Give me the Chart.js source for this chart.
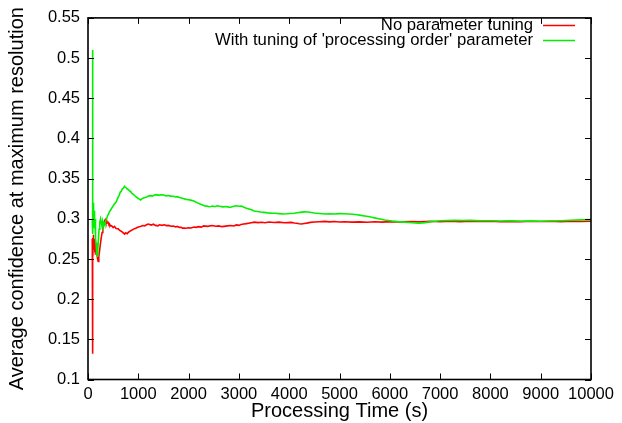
<!DOCTYPE html>
<html>
<head>
<meta charset="utf-8">
<script src="https://cdn.jsdelivr.net/npm/chart.js@4.4.1/dist/chart.umd.min.js"></script>
<style>
  html, body { margin: 0; padding: 0; background: #ffffff; }
  #wrap { width: 622px; height: 423px; }
</style>
</head>
<body>
<div id="wrap"><canvas id="c" width="622" height="423"></canvas></div>
<script>
// Series labels
const seriesNames = ["No parameter tuning", "With tuning of 'processing order' parameter"];

// Processing time (s) and average confidence, run without parameter tuning
const redTimes = [85, 88, 91, 94, 97, 100, 105, 112, 120, 130, 145, 160, 175, 190, 203, 215, 230, 245, 260, 280,
  295, 310, 325, 342, 355, 370, 385, 400, 415, 428, 450, 470, 500, 527, 560, 600, 630, 660, 690, 726,
  750, 780, 800, 826, 860, 890, 925, 960, 1000, 1040, 1091, 1130, 1160, 1200, 1257, 1300, 1340, 1389, 1420, 1470,
  1522, 1560, 1600, 1650, 1700, 1740, 1775, 1820, 1850, 1880, 1907, 1950, 2000, 2050, 2106, 2150, 2200, 2250, 2300, 2380,
  2470, 2540, 2600, 2660, 2707, 2770, 2836, 2900, 2950, 3000, 3040, 3100, 3150, 3220, 3307, 3380, 3450, 3520, 3600, 3700,
  3800, 3900, 4040, 4100, 4150, 4200, 4240, 4300, 4350, 4420, 4500, 4600, 4707, 4800, 4900, 5000, 5100, 5250, 5400, 5550,
  5700, 5850, 6000, 6200, 6400, 6600, 6800, 7000, 7200, 7400, 7600, 7800, 8000, 8200, 8400, 8600, 8800, 9000, 9200, 9400,
  9600, 9800, 10000];
const redValues = [0.275, 0.132, 0.27, 0.19, 0.276, 0.262, 0.28, 0.268, 0.275, 0.262, 0.266, 0.256, 0.258, 0.25, 0.247, 0.253, 0.26, 0.268, 0.275, 0.283,
  0.288, 0.294, 0.297, 0.299, 0.296, 0.298, 0.295, 0.2955, 0.293, 0.2935, 0.291, 0.2915, 0.289, 0.2905, 0.288, 0.2875, 0.2855, 0.2845, 0.283, 0.281,
  0.2825, 0.2815, 0.283, 0.2842, 0.2855, 0.2865, 0.2877, 0.2885, 0.2898, 0.2905, 0.2917, 0.2912, 0.2925, 0.2935, 0.2922, 0.2932, 0.2918, 0.2912, 0.2925, 0.2918,
  0.2926, 0.2915, 0.2918, 0.2908, 0.291, 0.2898, 0.2905, 0.2893, 0.2895, 0.2884, 0.2886, 0.2882, 0.2889, 0.2886, 0.2898, 0.2893, 0.2902, 0.2896, 0.2911, 0.2906,
  0.2916, 0.2908, 0.2912, 0.2902, 0.2906, 0.2912, 0.2916, 0.291, 0.2924, 0.2918, 0.2928, 0.2935, 0.294, 0.2948, 0.2958, 0.2952, 0.2957, 0.295, 0.296, 0.2953,
  0.2958, 0.295, 0.2955, 0.2948, 0.2944, 0.2938, 0.2935, 0.2942, 0.2946, 0.2955, 0.296, 0.2964, 0.2968, 0.2962, 0.2966, 0.296, 0.2963, 0.2958, 0.2962, 0.2957,
  0.2963, 0.2958, 0.2965, 0.2961, 0.2966, 0.2962, 0.297, 0.2964, 0.2969, 0.2965, 0.2971, 0.2966, 0.2969, 0.2964, 0.2968, 0.2965, 0.297, 0.2966, 0.2969, 0.2965,
  0.297, 0.2967, 0.297];

// Processing time (s) and average confidence, run with 'processing order' tuning
const greenTimes = [85, 88, 90, 92, 94, 96, 98, 102, 106, 110, 116, 122, 130, 140, 150, 160, 172, 183, 195, 208,
  220, 235, 249, 262, 275, 290, 305, 320, 335, 350, 370, 390, 410, 428, 450, 480, 500, 520, 540, 561,
  580, 600, 620, 640, 660, 680, 700, 726, 745, 760, 780, 800, 820, 846, 870, 900, 925, 950, 975, 1000,
  1020, 1045, 1070, 1100, 1140, 1178, 1210, 1244, 1280, 1320, 1370, 1410, 1450, 1509, 1550, 1600, 1650, 1700, 1740, 1775,
  1820, 1860, 1907, 1950, 2000, 2040, 2106, 2150, 2200, 2239, 2280, 2320, 2360, 2404, 2440, 2480, 2520, 2571, 2620, 2680,
  2750, 2800, 2836, 2900, 2950, 3000, 3050, 3100, 3150, 3200, 3250, 3300, 3373, 3430, 3500, 3570, 3640, 3720, 3800, 3880,
  3950, 4020, 4100, 4160, 4220, 4290, 4373, 4440, 4500, 4600, 4707, 4800, 4900, 5000, 5100, 5173, 5260, 5350, 5430, 5500,
  5570, 5640, 5720, 5800, 5900, 6040, 6150, 6300, 6450, 6573, 6700, 6800, 6900, 7000, 7150, 7300, 7450, 7600, 7800, 8000,
  8200, 8400, 8600, 8800, 9000, 9200, 9400, 9600, 9800, 10000];
const greenValues = [0.30, 0.51, 0.44, 0.50, 0.38, 0.47, 0.281, 0.32, 0.29, 0.318, 0.292, 0.31, 0.288, 0.30, 0.275, 0.27, 0.258, 0.2535, 0.262, 0.275,
  0.287, 0.296, 0.300, 0.296, 0.292, 0.297, 0.291, 0.294, 0.292, 0.297, 0.300, 0.304, 0.306, 0.309, 0.311, 0.314, 0.316, 0.318, 0.3195, 0.321,
  0.324, 0.327, 0.329, 0.333, 0.334, 0.337, 0.338, 0.3405, 0.339, 0.3385, 0.337, 0.3365, 0.335, 0.334, 0.332, 0.3305, 0.329, 0.3275, 0.3265, 0.3252,
  0.3245, 0.3235, 0.3248, 0.3258, 0.3265, 0.3275, 0.3285, 0.3288, 0.3282, 0.3295, 0.330, 0.3292, 0.3298, 0.3296, 0.3285, 0.329, 0.3282, 0.328, 0.3272, 0.3275,
  0.3265, 0.3258, 0.325, 0.3242, 0.3238, 0.3232, 0.3222, 0.3205, 0.3192, 0.318, 0.3172, 0.316, 0.3158, 0.315, 0.3152, 0.3158, 0.315, 0.3162, 0.3155, 0.3148,
  0.3152, 0.3145, 0.3143, 0.3155, 0.3162, 0.3156, 0.3158, 0.3145, 0.3132, 0.3122, 0.3112, 0.3098, 0.309, 0.3085, 0.308, 0.3074, 0.307, 0.3068, 0.3064, 0.306,
  0.3062, 0.3066, 0.3068, 0.3075, 0.308, 0.3086, 0.3085, 0.3078, 0.3072, 0.3066, 0.306, 0.3063, 0.306, 0.3064, 0.3062, 0.306, 0.3057, 0.305, 0.3042, 0.3035,
  0.3028, 0.302, 0.3008, 0.2998, 0.2985, 0.2972, 0.2965, 0.2958, 0.295, 0.2946, 0.2952, 0.2962, 0.297, 0.2976, 0.2979, 0.2981, 0.2978, 0.298, 0.2976, 0.2975,
  0.2972, 0.2974, 0.297, 0.2971, 0.2969, 0.2972, 0.2976, 0.2982, 0.2986, 0.299];

// Axis tick values
const xTickValues = [0, 1000, 2000, 3000, 4000, 5000, 6000, 7000, 8000, 9000, 10000];
const yTickValues = [0.1, 0.15, 0.2, 0.25, 0.3, 0.35, 0.4, 0.45, 0.5, 0.55];
const yTickLabels = ["0.1", "0.15", "0.2", "0.25", "0.3", "0.35", "0.4", "0.45", "0.5", "0.55"];

const FONT = "'Liberation Sans', Arial, Helvetica, sans-serif";
const RED = "#ff0000";
const GREEN = "#00f000";

function toPoints(times, values) {
  return times.map((t, i) => ({ x: t, y: values[i] }));
}

// Border box with inward tick marks on all four sides
const frame = {
  id: 'frame',
  afterDatasetsDraw(chart) {
    const { ctx, chartArea: a, scales } = chart;
    const len = 6;
    ctx.save();
    ctx.strokeStyle = '#000';
    ctx.lineWidth = 1;
    ctx.beginPath();
    scales.x.ticks.forEach(t => {
      const px = Math.round(scales.x.getPixelForValue(t.value)) + 0.5;
      ctx.moveTo(px, a.bottom); ctx.lineTo(px, a.bottom - len);
      ctx.moveTo(px, a.top); ctx.lineTo(px, a.top + len);
    });
    scales.y.ticks.forEach(t => {
      const py = Math.round(scales.y.getPixelForValue(t.value)) + 0.5;
      ctx.moveTo(a.left, py); ctx.lineTo(a.left + len, py);
      ctx.moveTo(a.right, py); ctx.lineTo(a.right - len, py);
    });
    ctx.stroke();
    ctx.lineWidth = 1.6;
    ctx.strokeRect(a.left, a.top, a.right - a.left, a.bottom - a.top);
    ctx.restore();
  }
};

// Key in the upper right corner: right-aligned text followed by a line sample
const key = {
  id: 'key',
  afterDraw(chart) {
    const { ctx } = chart;
    const colors = [RED, GREEN];
    const textRight = 533;
    const rows = [25.5, 40.5];
    ctx.save();
    ctx.font = "16.7px " + FONT;
    ctx.textAlign = 'right';
    ctx.textBaseline = 'middle';
    seriesNames.forEach((name, i) => {
      ctx.fillStyle = '#000';
      ctx.fillText(name, textRight, rows[i] - 0.5);
      ctx.strokeStyle = colors[i];
      ctx.lineWidth = 1.5;
      ctx.beginPath();
      ctx.moveTo(543, rows[i]);
      ctx.lineTo(575, rows[i]);
      ctx.stroke();
    });
    ctx.restore();
  }
};

new Chart(document.getElementById('c'), {
  type: 'line',
  data: {
    datasets: [
      {
        label: seriesNames[0],
        data: toPoints(redTimes, redValues),
        borderColor: RED,
        borderWidth: 1.6,
        pointRadius: 0,
        tension: 0,
        order: 2
      },
      {
        label: seriesNames[1],
        data: toPoints(greenTimes, greenValues),
        borderColor: GREEN,
        borderWidth: 1.6,
        pointRadius: 0,
        tension: 0,
        order: 1
      }
    ]
  },
  options: {
    responsive: false,
    animation: false,
    devicePixelRatio: 1,
    layout: { padding: { top: 15.5, right: 31, bottom: 0, left: 0 } },
    plugins: {
      legend: { display: false },
      tooltip: { enabled: false }
    },
    scales: {
      x: {
        type: 'linear',
        min: 0,
        max: 10000,
        afterBuildTicks(scale) { scale.ticks = xTickValues.map(v => ({ value: v })); },
        afterFit(scale) { scale.height = 43.5; },
        grid: { display: false, drawTicks: false },
        border: { display: false },
        ticks: {
          padding: 5,
          maxRotation: 0,
          autoSkip: false,
          color: '#000',
          font: { family: FONT, size: 16.5 },
          callback: (v) => String(v)
        },
        title: {
          display: true,
          text: 'Processing Time (s)',
          color: '#000',
          font: { family: FONT, size: 20 },
          padding: { top: 0, bottom: 0 }
        }
      },
      y: {
        type: 'linear',
        min: 0.1,
        max: 0.55,
        afterBuildTicks(scale) { scale.ticks = yTickValues.map(v => ({ value: v })); },
        afterFit(scale) { scale.width = 88; },
        grid: { display: false, drawTicks: false },
        border: { display: false },
        ticks: {
          padding: 8,
          autoSkip: false,
          color: '#000',
          font: { family: FONT, size: 16.5 },
          callback: (v, i) => yTickLabels[i]
        },
        title: {
          display: true,
          text: 'Average confidence at maximum resolution',
          color: '#000',
          font: { family: FONT, size: 20 },
          padding: { top: 5, bottom: 0 }
        }
      }
    }
  },
  plugins: [frame, key]
});
</script>
</body>
</html>
